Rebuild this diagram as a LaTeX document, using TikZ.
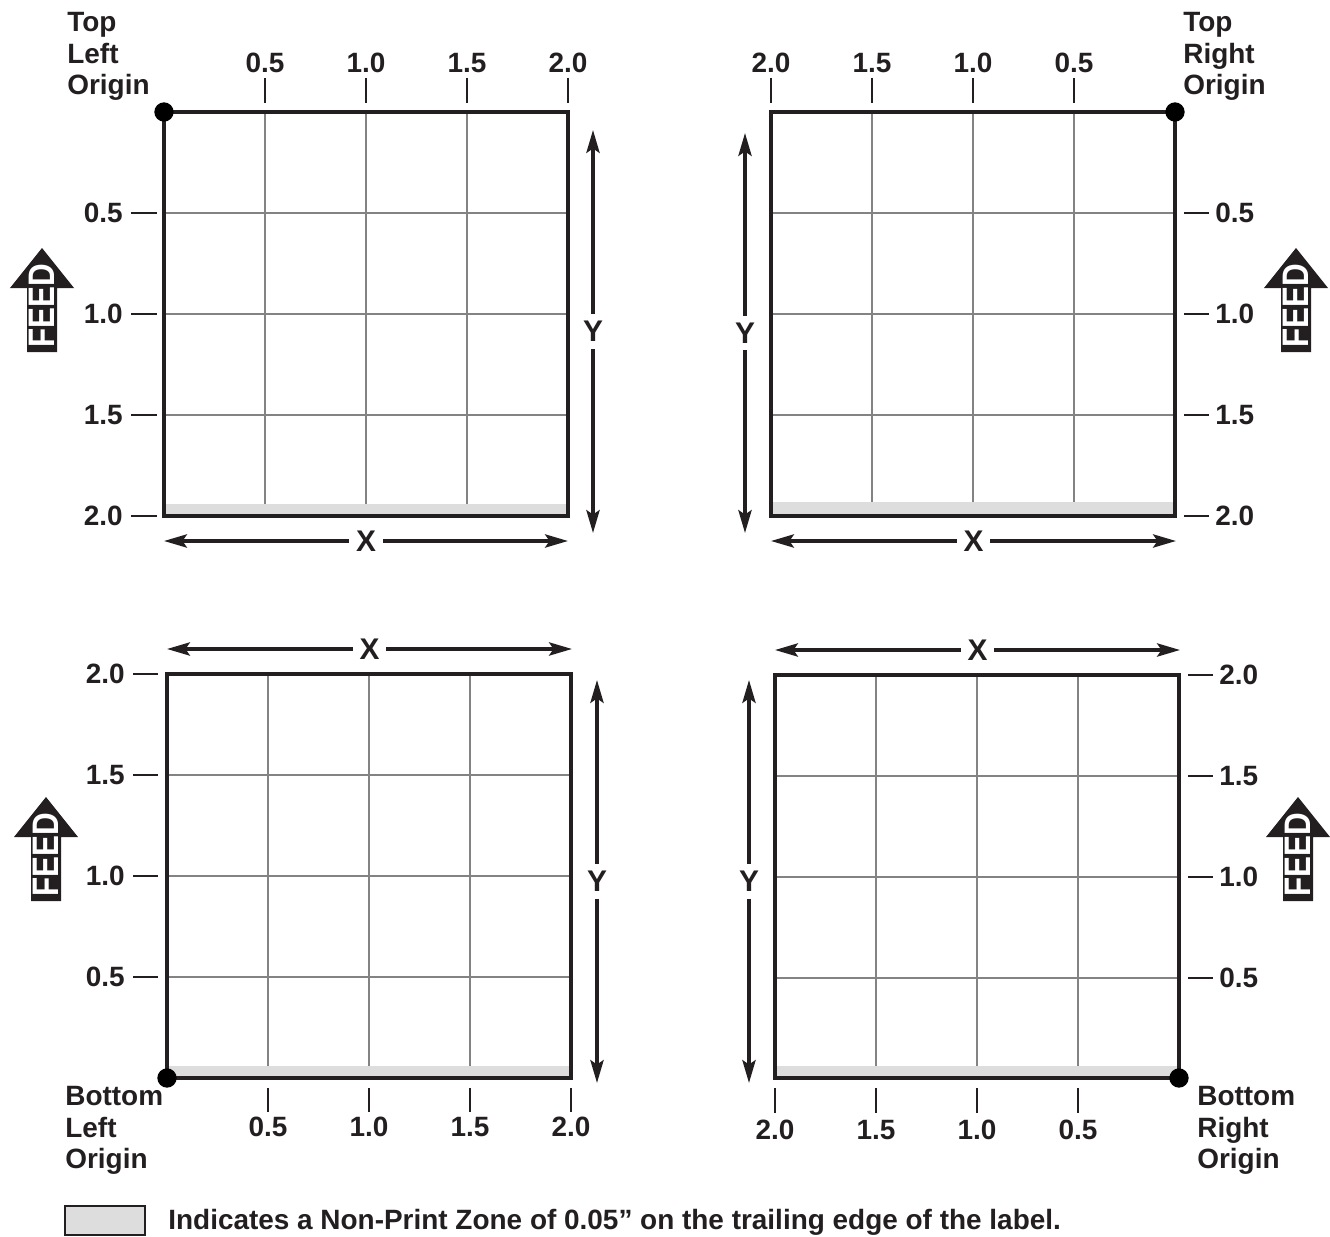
\documentclass[tikz,border=0pt]{standalone}
\usepackage{fontspec}
\setmainfont{Liberation Sans}
\definecolor{Ink}{HTML}{231F20}
\definecolor{GridGray}{HTML}{838383}
\definecolor{ZoneGray}{HTML}{DDDDDD}
\newcommand\numfont{\fontsize{15.9}{17.9}\selectfont\bfseries}
\usetikzlibrary{arrows.meta,positioning}

\begin{document}
\begin{tikzpicture}[
    x=0.02cm, y=-0.02cm,
    labelframe/.style={draw=Ink, line width=2pt},
    gridline/.style={draw=GridGray, line width=1.4pt},
    zonefill/.style={fill=ZoneGray},
    tickmark/.style={draw=Ink, line width=1.5pt},
    ticknum/.style={font=\numfont, text=Ink, inner sep=0pt},
    dimarrow/.style={{Stealth[length=13pt,width=7.5pt,inset=2.5pt]}-{Stealth[length=13pt,width=7.5pt,inset=2.5pt]},
      draw=Ink, line width=2pt},
    axisname/.style={fill=white, font=\fontsize{17}{17}\selectfont\bfseries,
      text=Ink, inner sep=4pt},
    origindot/.style={circle, fill=black, inner sep=0pt, minimum size=11pt},
    cornertext/.style={align=left, anchor=north west, inner sep=0pt,
      font=\numfont, text=Ink},
    feedtext/.style={text=white, rotate=90, inner sep=0pt,
      font=\fontsize{21}{21}\selectfont\bfseries},
    feedarrow/.pic={
      \fill[Ink] (-15,52) -- (-15,-12) -- (-32,-12) -- (0,-52)
        -- (32,-12) -- (15,-12) -- (15,52) -- cycle;
      \node[feedtext] (-label) at (0,6) {\scalebox{0.85}[1]{FEED}};
    }
  ]
  \useasboundingbox (0,0) rectangle (1330,1237);

  % top left origin
  \begin{scope}[shift={(164,112)}]
    \foreach \k in {1,2,3} {
      \draw[gridline] (101*\k,0) -- (101*\k,404);
      \draw[gridline] (0,101*\k) -- (404,101*\k);
    }
    \fill[zonefill] (0,392) rectangle (404,404);
    \draw[labelframe] (0,0) rectangle (404,404);
    \node[origindot] (tldot) at (0,0) {};
    \foreach \k/\v in {1/0.5,2/1.0,3/1.5,4/2.0} {
      \draw[tickmark] (101*\k,-34) -- (101*\k,-9);
      \node[ticknum] (tltop\k) at (101*\k,-49) {\v};
      \draw[tickmark] (-33,101*\k) -- (-7,101*\k);
      \node[ticknum, anchor=east] (tlside\k) at (-41,101*\k) {\v};
    }
    \coordinate (tlya) at (429,18);
    \coordinate (tlyb) at (429,421);
    \draw[dimarrow] (tlya) -- node[axisname] (tly) {Y} (tlyb);
    \coordinate (tlxa) at (0,429);
    \coordinate (tlxb) at (404,429);
    \draw[dimarrow] (tlxa) -- node[axisname] (tlx) {X} (tlxb);
  \end{scope}
  \node[cornertext] (tlname) at (67,12) {Top\\Left\\Origin};
  \pic (feedtl) at (42,300) {feedarrow};

  % top right origin
  \begin{scope}[shift={(771,112)}]
    \foreach \k in {1,2,3} {
      \draw[gridline] (101*\k,0) -- (101*\k,404);
      \draw[gridline] (0,101*\k) -- (404,101*\k);
    }
    \fill[zonefill] (0,390) rectangle (404,404);
    \draw[labelframe] (0,0) rectangle (404,404);
    \node[origindot] (trdot) at (404,0) {};
    \foreach \k/\v in {0/2.0,1/1.5,2/1.0,3/0.5} {
      \draw[tickmark] (101*\k,-34) -- (101*\k,-9);
      \node[ticknum] (trtop\k) at (101*\k,-49) {\v};
    }
    \foreach \k/\v in {1/0.5,2/1.0,3/1.5,4/2.0} {
      \draw[tickmark] (413,101*\k) -- (438,101*\k);
      \node[ticknum, anchor=west] (trside\k) at (444,101*\k) {\v};
    }
    \coordinate (trya) at (-26,21);
    \coordinate (tryb) at (-26,421);
    \draw[dimarrow] (trya) -- node[axisname] (try) {Y} (tryb);
    \coordinate (trxa) at (0,429);
    \coordinate (trxb) at (405,429);
    \draw[dimarrow] (trxa) -- node[axisname] (trx) {X} (trxb);
  \end{scope}
  \node[cornertext] (trname) at (1183,12) {Top\\Right\\Origin};
  \pic (feedtr) at (1296,300) {feedarrow};

  % bottom left origin
  \begin{scope}[shift={(167,674)}]
    \foreach \k in {1,2,3} {
      \draw[gridline] (101*\k,0) -- (101*\k,404);
      \draw[gridline] (0,101*\k) -- (404,101*\k);
    }
    \fill[zonefill] (0,392) rectangle (404,404);
    \draw[labelframe] (0,0) rectangle (404,404);
    \node[origindot] (bldot) at (0,404) {};
    \foreach \k/\v in {1/0.5,2/1.0,3/1.5,4/2.0} {
      \draw[tickmark] (101*\k,414) -- (101*\k,438);
      \node[ticknum] (blbot\k) at (101*\k,453) {\v};
    }
    \foreach \k/\v in {0/2.0,1/1.5,2/1.0,3/0.5} {
      \draw[tickmark] (-34,101*\k) -- (-9,101*\k);
      \node[ticknum, anchor=east] (blside\k) at (-42,101*\k) {\v};
    }
    \coordinate (blya) at (430,6);
    \coordinate (blyb) at (430,409);
    \draw[dimarrow] (blya) -- node[axisname] (bly) {Y} (blyb);
    \coordinate (blxa) at (0,-25);
    \coordinate (blxb) at (405,-25);
    \draw[dimarrow] (blxa) -- node[axisname] (blx) {X} (blxb);
  \end{scope}
  \node[cornertext] (blname) at (65,1086) {Bottom\\Left\\Origin};
  \pic (feedbl) at (46,849) {feedarrow};

  % bottom right origin
  \begin{scope}[shift={(775,675)}]
    \foreach \k in {1,2,3} {
      \draw[gridline] (101*\k,0) -- (101*\k,403);
      \draw[gridline] (0,101*\k) -- (404,101*\k);
    }
    \fill[zonefill] (0,391) rectangle (404,403);
    \draw[labelframe] (0,0) rectangle (404,403);
    \node[origindot] (brdot) at (404,403) {};
    \foreach \k/\v in {0/2.0,1/1.5,2/1.0,3/0.5} {
      \draw[tickmark] (101*\k,413) -- (101*\k,438);
      \node[ticknum] (brbot\k) at (101*\k,455) {\v};
      \draw[tickmark] (413,101*\k) -- (438,101*\k);
      \node[ticknum, anchor=west] (brside\k) at (444,101*\k) {\v};
    }
    \coordinate (brya) at (-26,5);
    \coordinate (bryb) at (-26,408);
    \draw[dimarrow] (brya) -- node[axisname] (bry) {Y} (bryb);
    \coordinate (brxa) at (0,-25);
    \coordinate (brxb) at (405,-25);
    \draw[dimarrow] (brxa) -- node[axisname] (brx) {X} (brxb);
  \end{scope}
  \node[cornertext] (brname) at (1197,1086) {Bottom\\Right\\Origin};
  \pic (feedbr) at (1298,849) {feedarrow};

  % legend
  \draw[zonefill, draw=Ink, line width=1.6pt] (65,1206) rectangle (145,1235);
  \node[ticknum, anchor=west] (legend) at (168,1222)
    {Indicates a Non-Print Zone of 0.05” on the trailing edge of the label.};
\end{tikzpicture}
\end{document}
